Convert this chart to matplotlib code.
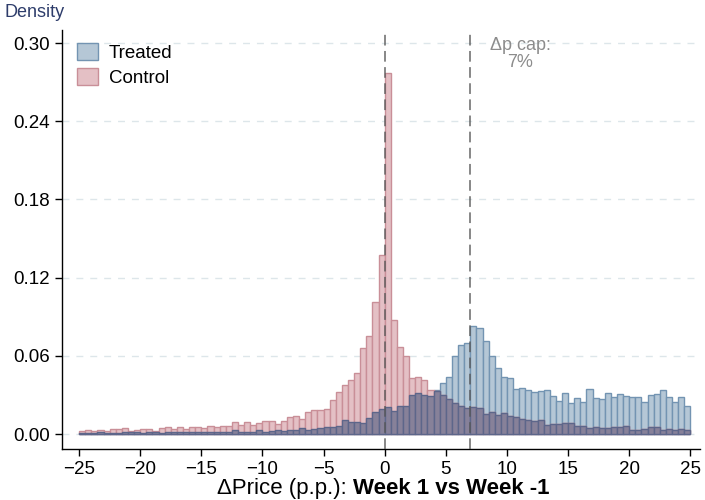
import matplotlib
matplotlib.use("Agg")
import matplotlib.pyplot as plt
from matplotlib.patches import Patch
import numpy as np

# histogram bins: width 0.5 p.p. from -25 to 25
bin_edges = np.arange(-25, 25.5, 0.5)

treated = [
    # -25 .. -17
    0.0008, 0.0008, 0.0010, 0.0016, 0.0010, 0.0010, 0.0008, 0.0012,
    0.0015, 0.0012, 0.0010, 0.0012, 0.0012, 0.0010, 0.0016, 0.0014,
    # -17 .. -8.5
    0.0015, 0.0013, 0.0015, 0.0018, 0.0015, 0.0015, 0.0018, 0.0015,
    0.0015, 0.0030, 0.0018, 0.0018, 0.0015, 0.0028, 0.0018, 0.0020, 0.0030,
    # -8.5 .. 0
    0.0023, 0.0028, 0.0028, 0.0043, 0.0028, 0.0036, 0.0046, 0.0051,
    0.0051, 0.0061, 0.0105, 0.0092, 0.0092, 0.0084, 0.0120, 0.0166, 0.0192,
    # 0 .. 8.5
    0.0204, 0.0174, 0.0217, 0.0217, 0.0301, 0.0312, 0.0296, 0.0289,
    0.0335, 0.0388, 0.0439, 0.0600, 0.0684, 0.0695, 0.0830, 0.0817, 0.0715,
    # 8.5 .. 17
    0.0600, 0.0508, 0.0434, 0.0427, 0.0345, 0.0355, 0.0335, 0.0319,
    0.0327, 0.0335, 0.0293, 0.0255, 0.0312, 0.0235, 0.0276, 0.0243, 0.0345,
    # 17 .. 25
    0.0273, 0.0268, 0.0312, 0.0281, 0.0306, 0.0294, 0.0286, 0.0286,
    0.0248, 0.0299, 0.0306, 0.0340, 0.0281, 0.0243, 0.0281, 0.0217,
]

control = [
    # -25 .. -17
    0.0020, 0.0028, 0.0026, 0.0031, 0.0026, 0.0036, 0.0036, 0.0043,
    0.0026, 0.0031, 0.0041, 0.0036, 0.0026, 0.0048, 0.0056, 0.0041,
    # -17 .. -8.5
    0.0051, 0.0036, 0.0051, 0.0051, 0.0046, 0.0061, 0.0051, 0.0061,
    0.0059, 0.0094, 0.0071, 0.0089, 0.0069, 0.0084, 0.0100, 0.0100, 0.0074,
    # -8.5 .. 0
    0.0097, 0.0128, 0.0140, 0.0115, 0.0171, 0.0181, 0.0181, 0.0189,
    0.0258, 0.0324, 0.0378, 0.0411, 0.0470, 0.0661, 0.0753, 0.1014, 0.1370,
    # 0 .. 8.5
    0.2770, 0.0875, 0.0669, 0.0600, 0.0431, 0.0439, 0.0416, 0.0335,
    0.0330, 0.0300, 0.0268, 0.0235, 0.0212, 0.0199, 0.0204, 0.0202, 0.0153,
    # 8.5 .. 17
    0.0166, 0.0146, 0.0158, 0.0135, 0.0128, 0.0112, 0.0105, 0.0097,
    0.0105, 0.0066, 0.0074, 0.0074, 0.0082, 0.0082, 0.0059, 0.0059, 0.0043,
    # 17 .. 25
    0.0056, 0.0043, 0.0043, 0.0056, 0.0051, 0.0064, 0.0033, 0.0031,
    0.0036, 0.0056, 0.0051, 0.0031, 0.0036, 0.0033, 0.0036, 0.0031,
]

x_ticks = [-25, -20, -15, -10, -5, 0, 5, 10, 15, 20, 25]
y_ticks = [0.00, 0.06, 0.12, 0.18, 0.24, 0.30]
cap_value = 7

plt.rcParams['font.family'] = ['Liberation Sans', 'DejaVu Sans']

TREAT_FILL, TREAT_EDGE = "#b5c7d6", "#7394b2"
CTRL_FILL, CTRL_EDGE = "#e4c0c5", "#c98f98"
BOTH_FILL, BOTH_EDGE = "#878199", "#5d668a"

fig = plt.figure(figsize=(7.05, 5.0), dpi=100)
ax = fig.add_axes([0.088, 0.102, 0.905, 0.838])

left = bin_edges[:-1]
overlap = np.minimum(treated, control)

ax.bar(left, treated, width=0.5, align='edge', color=TREAT_FILL,
       edgecolor=TREAT_EDGE, linewidth=1.0, zorder=2)
ax.bar(left, control, width=0.5, align='edge', color=CTRL_FILL,
       edgecolor=CTRL_EDGE, linewidth=1.0, zorder=2)
ax.bar(left, overlap, width=0.5, align='edge', color=BOTH_FILL,
       edgecolor=BOTH_EDGE, linewidth=1.0, zorder=3)

# reference lines
for xv in [0, cap_value]:
    ax.axvline(xv, color="#555555", alpha=0.7, linewidth=1.4,
               linestyle=(0, (5.5, 2.8)), zorder=4)

ax.text(11.1, 0.305, "\u0394p cap:\n7%", ha='center', va='top',
        color="#8c8c8c", fontsize=13, linespacing=1.0)

# grid
for yv in y_ticks:
    ax.axhline(yv, color="#dde6ea", linewidth=1.0, linestyle=(0, (5, 5)), zorder=0)

ax.set_xlim(-26.4, 25.8)
ax.set_ylim(-0.0115, 0.31)
ax.set_xticks(x_ticks)
ax.set_yticks(y_ticks)
ax.set_yticklabels([f"{v:.2f}" for v in y_ticks])
ax.tick_params(axis='both', direction='out', length=5, width=1,
               labelsize=13.5, colors='black')

for s in ['top', 'right']:
    ax.spines[s].set_visible(False)
for s in ['left', 'bottom']:
    ax.spines[s].set_linewidth(1.0)

# axis titles
fig.text(0.007, 0.992, "Density", ha='left', va='top', color="#2e3d6b", fontsize=13)
t1 = fig.text(0.308, 0.002, "\u0394Price (p.p.): ", ha='left', va='bottom', fontsize=16)
ax.annotate("Week 1 vs Week -1", xy=(1, 0), xycoords=t1, ha='left', va='bottom',
            fontsize=16, fontweight='bold', annotation_clip=False)

legend_elements = [
    Patch(facecolor=TREAT_FILL, edgecolor=TREAT_EDGE, linewidth=1.0, label='Treated'),
    Patch(facecolor=CTRL_FILL, edgecolor=CTRL_EDGE, linewidth=1.0, label='Control'),
]
fig.legend(handles=legend_elements, loc='upper left',
           bbox_to_anchor=(77 / 705, 1 - 43 / 500), frameon=False,
           fontsize=13.5, handlelength=1.1, handleheight=1.0,
           handletextpad=0.6, labelspacing=0.35, borderpad=0, borderaxespad=0)

fig.savefig("out.png", dpi=100)
